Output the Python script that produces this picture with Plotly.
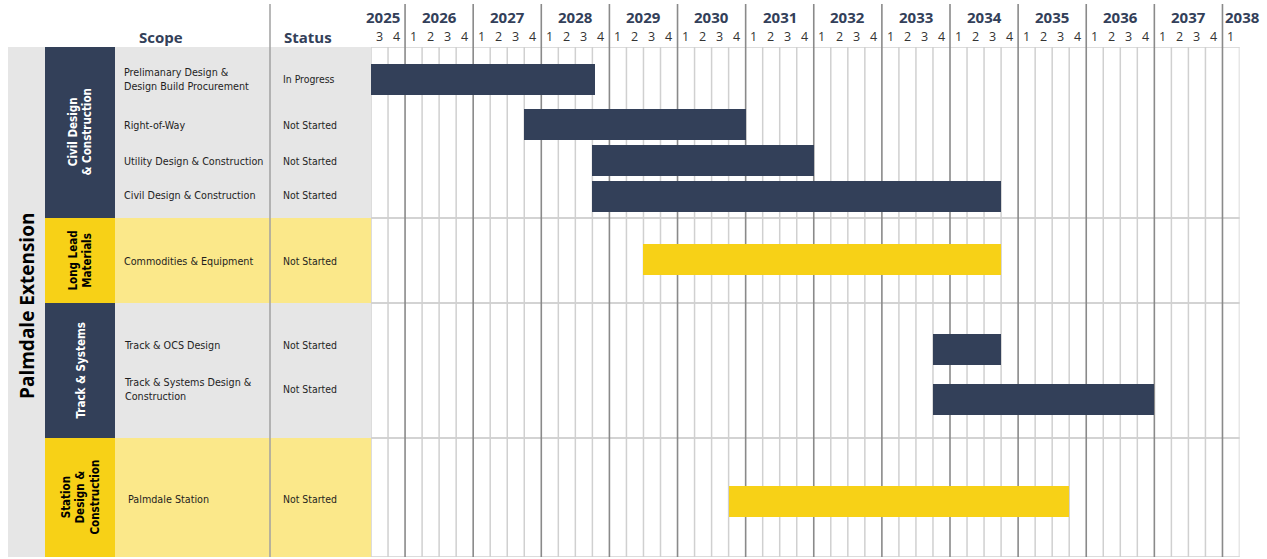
import plotly.graph_objects as go

# ---------------- data ----------------
tasks = ["Prelimanary Design &<br>Design Build Procurement", "Right-of-Way",
         "Utility Design & Construction", "Civil Design & Construction",
         "Commodities & Equipment", "Track & OCS Design",
         "Track & Systems Design &<br>Construction", "Palmdale Station"]
statuses = ["In Progress", "Not Started", "Not Started", "Not Started",
            "Not Started", "Not Started", "Not Started", "Not Started"]
task_group = [0, 0, 0, 0, 1, 2, 2, 3]
start = [2025.5, 2027.75, 2028.75, 2028.75, 2029.5, 2033.75, 2033.75, 2030.75]
finish = [2028.79, 2031.0, 2032.0, 2034.75, 2034.75, 2034.75, 2037.0, 2035.75]

groups = ["Civil Design<br>& Construction", "Long Lead<br>Materials",
          "Track & Systems", "Station<br>Design &<br>Construction"]
program = "Palmdale Extension"

years = list(range(2025, 2039))
x_start, x_end = 2025.5, 2038.25

# ---------------- layout / style ----------------
W, H = 1267, 559
NAVY = "#334059"
YELLOW = "#f7d117"
LIGHT_YELLOW = "#fbe88a"
LIGHT_GRAY = "#e6e6e6"
group_fill = [NAVY, YELLOW, NAVY, YELLOW]
group_bg = [LIGHT_GRAY, LIGHT_YELLOW, LIGHT_GRAY, LIGHT_YELLOW]
group_txt = ["white", "black", "white", "black"]

GRID_TOP, GRID_BOT = 47, 557          # pixel rows of grid
X0_PX, X1_PX = 371, 1239.5            # pixel columns of timeline
# row centers / section bounds in y-axis units (pixels below the grid top)
row_y = [32, 77, 113, 149, 212.5, 302, 352, 454]
label_y = [32, 78, 114, 148, 214, 298, 342, 452]
section_bounds = [(0, 171), (171, 256), (256, 391), (391, 510)]
BAR_W = 31

COND = "DejaVu Sans Condensed, Liberation Sans Narrow, sans-serif"
HEAD = "Open Sans, Lato, sans-serif"


def px(x):
    return x / W


def py(y):
    return (H - y) / H


fig = go.Figure()

for i in range(len(tasks)):
    g = task_group[i]
    fig.add_trace(go.Bar(
        y=[row_y[i]], x=[finish[i] - start[i]], base=[start[i]],
        orientation="h", width=BAR_W,
        marker=dict(color=group_fill[g], line=dict(width=0)),
        showlegend=False, hoverinfo="skip"))

shapes = []
annotations = []


def ann(**kw):
    kw.setdefault("showarrow", False)
    kw.setdefault("xanchor", "center")
    kw.setdefault("yanchor", "middle")
    annotations.append(kw)


# left table backgrounds
shapes.append(dict(type="rect", xref="paper", yref="y", x0=px(8), x1=px(45),
                   y0=0, y1=510, fillcolor=LIGHT_GRAY, line=dict(width=0), layer="below"))
for g, (a, b) in enumerate(section_bounds):
    shapes.append(dict(type="rect", xref="paper", yref="y", x0=px(45), x1=px(115),
                       y0=a, y1=b, fillcolor=group_fill[g], line=dict(width=0), layer="below"))
    shapes.append(dict(type="rect", xref="paper", yref="y", x0=px(115), x1=px(X0_PX),
                       y0=a, y1=b, fillcolor=group_bg[g], line=dict(width=0), layer="below"))
    ann(xref="paper", yref="y", x=px(80), y=(a + b) / 2,
        text="<b>" + groups[g] + "</b>", textangle=-90,
        font=dict(family=COND, size=11.5, color=group_txt[g]))

# section horizontal lines across the timeline
for a, b in section_bounds:
    for yy in (a, b):
        shapes.append(dict(type="line", xref="paper", yref="y", x0=px(X0_PX), x1=px(X1_PX),
                           y0=yy, y1=yy, line=dict(color="#d0d0d0", width=1.5), layer="below"))

# quarter grid lines
q = x_start
while q <= x_end + 1e-9:
    if abs(q - round(q)) > 1e-9:
        shapes.append(dict(type="line", xref="x", yref="y", x0=q, x1=q, y0=0, y1=510,
                           line=dict(color="#d0d0d0", width=1.5), layer="below"))
    q += 0.25
# year lines extending into the header
for yr in years[1:]:
    shapes.append(dict(type="line", xref="x", yref="paper", x0=yr, x1=yr,
                       y0=py(GRID_BOT), y1=py(4),
                       line=dict(color="#8a8a8a", width=1.6), layer="below"))
# status separator
shapes.append(dict(type="line", xref="paper", yref="paper", x0=px(270), x1=px(270),
                   y0=py(GRID_BOT), y1=py(4), line=dict(color="#a0a0a0", width=1.5)))

# program label
ann(xref="paper", yref="y", x=px(27), y=259,
    text="<b>" + program + "</b>", textangle=-90,
    font=dict(family=HEAD, size=19, color="black"))

# headers
ann(xref="paper", yref="paper", x=px(161), y=py(37), text="<b>Scope</b>",
    font=dict(family=HEAD, size=15, color=NAVY))
ann(xref="paper", yref="paper", x=px(308), y=py(37), text="<b>Status</b>",
    font=dict(family=HEAD, size=15, color=NAVY))

# year + quarter header labels
for yr in years:
    lo = max(yr, x_start)
    hi = min(yr + 1, x_end)
    if yr == years[0]:
        ax, anchor = hi - 0.04, "right"
    elif yr == years[-1]:
        ax, anchor = lo + 0.01, "left"
    else:
        ax, anchor = (lo + hi) / 2, "center"
    ann(xref="x", yref="paper", x=ax, y=py(17), text="<b>%d</b>" % yr, xanchor=anchor,
        font=dict(family=HEAD, size=15, color=NAVY))
    qq = lo
    while qq < hi - 1e-9:
        qn = int(round((qq - yr) * 4)) + 1
        ann(xref="x", yref="paper", x=qq + 0.04, y=py(37), text=str(qn), xanchor="left",
            font=dict(family=HEAD, size=12.5, color="#333333"))
        qq += 0.25

# task and status labels
for i in range(len(tasks)):
    xoff = 126 if i == len(tasks) - 1 else 122
    ann(xref="paper", yref="y", x=px(xoff), y=label_y[i], text=tasks[i],
        xanchor="left", align="left",
        font=dict(family=COND, size=10.7, color="#1e1e1e"))
    ann(xref="paper", yref="y", x=px(281), y=label_y[i], text=statuses[i],
        xanchor="left", align="left",
        font=dict(family=COND, size=10.4, color="#1e1e1e"))

fig.update_layout(
    width=W, height=H, margin=dict(l=0, r=0, t=0, b=0),
    paper_bgcolor="white", plot_bgcolor="white",
    barmode="overlay", bargap=0,
    xaxis=dict(range=[x_start, x_end], domain=[px(X0_PX), px(X1_PX)], visible=False,
               showgrid=False, zeroline=False),
    yaxis=dict(range=[510, 0], domain=[py(GRID_BOT), py(GRID_TOP)], visible=False,
               showgrid=False, zeroline=False),
    shapes=shapes, annotations=annotations,
)

fig.write_html("out.html",
               config={"displayModeBar": False, "staticPlot": True},
               post_script="document.body.style.margin='0px';document.body.style.overflow='hidden';")
